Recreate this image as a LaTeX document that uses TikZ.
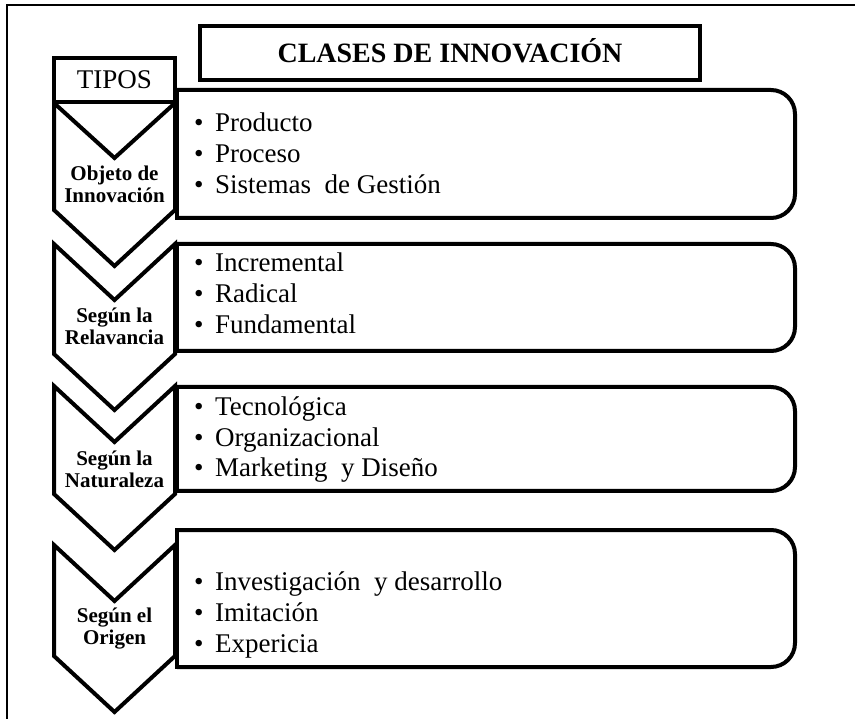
\documentclass[tikz,border=0pt]{standalone}
\usepackage{fontspec}
\setmainfont{Liberation Serif}

\tikzset{
  boxline/.style={line width=4pt, line join=miter},
  chevron/.style={line width=4pt, line join=miter, fill=white},
  typelabel/.style={font=\fontsize{21}{22}\selectfont\bfseries, align=center, inner sep=0pt},
  itemlist/.style={font=\fontsize{27}{31}\selectfont, align=left, inner sep=0pt, anchor=base west},
}
\newcommand{\itm}{\makebox[21pt][l]{\textbullet}}

\begin{document}
\begin{tikzpicture}[x=1pt, y=-1pt]
    \useasboundingbox (0,0) rectangle (855,719);

    % Outer frame (only top and left edges are visible)
    \draw[line width=2pt] (7,719) -- (7,5) -- (855,5);

    % Item boxes: square on the left, rounded on the right
    \draw[boxline, rounded corners=24pt] (177,90) -- (795,90) -- (795,218) -- (177,218);
    \draw[boxline, line cap=rect] (177,90) -- (177,218);
    \draw[boxline, rounded corners=24pt] (177,244) -- (795,244) -- (795,351) -- (177,351);
    \draw[boxline, line cap=rect] (177,244) -- (177,351);
    \draw[boxline, rounded corners=24pt] (177,387) -- (795,387) -- (795,491) -- (177,491);
    \draw[boxline, line cap=rect] (177,387) -- (177,491);
    \draw[boxline, rounded corners=24pt] (177,530) -- (795,530) -- (795,667) -- (177,667);
    \draw[boxline, line cap=rect] (177,530) -- (177,667);

    % Chevrons
    \draw[chevron] (54,103) -- (114.5,158) -- (175,103) -- (175,210) -- (114.5,266) -- (54,210) -- cycle;
    \draw[chevron] (54,244) -- (114.5,300) -- (175,244) -- (175,354) -- (114.5,410) -- (54,354) -- cycle;
    \draw[chevron] (54,386) -- (114.5,442) -- (175,386) -- (175,494) -- (114.5,550) -- (54,494) -- cycle;
    \draw[chevron] (54,545) -- (114.5,601) -- (175,545) -- (175,656) -- (114.5,712) -- (54,656) -- cycle;

    % Title and header
    \node[draw, line width=4pt, minimum width=500pt, minimum height=54pt, inner sep=0pt,
          text height=19pt, text depth=0pt, font=\fontsize{28}{30}\selectfont\bfseries]
          (title) at (450,53) {CLASES DE INNOVACIÓN};
    \node[draw, line width=4pt, fill=white, minimum width=121pt, minimum height=44pt, inner sep=0pt,
          text height=18pt, text depth=0pt, font=\fontsize{27}{29}\selectfont]
          (tipos) at (114.5,80) {TIPOS};

    % Type labels
    \node[typelabel] (objeto) at (114.5,184) {Objeto de\\Innovación};
    \node[typelabel] (relevancia) at (114.5,326) {Según la\\Relavancia};
    \node[typelabel] (naturaleza) at (114.5,469) {Según la\\Naturaleza};
    \node[typelabel] (origen) at (114.5,629) {Según el\\Origen};

    % Item lists (anchor sits on the last line)
    \node[itemlist] (list1) at (194,194) {\itm Producto\\\itm Proceso\\\itm Sistemas\ \ de Gestión};
    \node[itemlist] (list2) at (194,334) {\itm Incremental\\\itm Radical\\\itm Fundamental};
    \node[itemlist] (list3) at (194,477) {\itm Tecnológica\\\itm Organizacional\\\itm Marketing\ \ y Diseño};
    \node[itemlist] (list4) at (194,652) {\itm Investigación\ \ y desarrollo\\\itm Imitación\\\itm Expericia};
\end{tikzpicture}
\end{document}
